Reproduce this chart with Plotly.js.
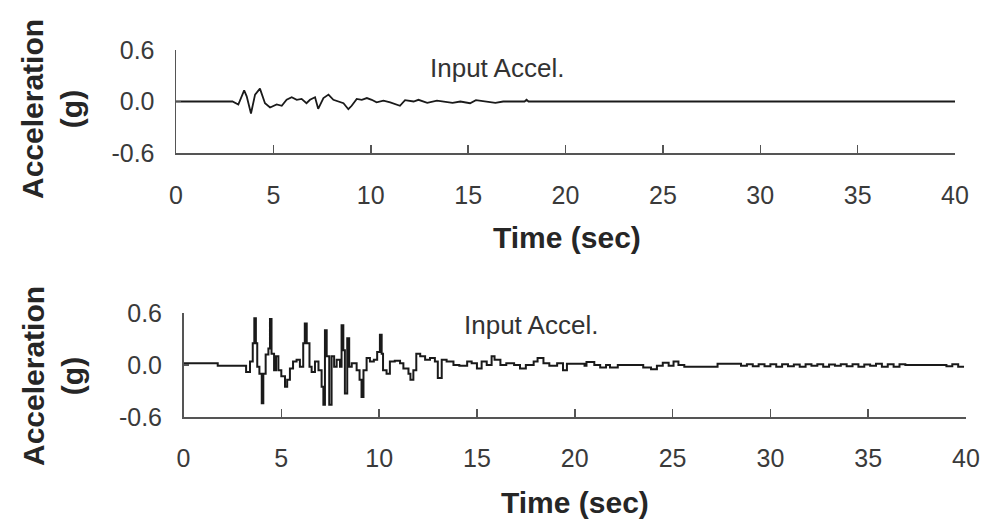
<!DOCTYPE html>
<html>
<head>
<meta charset="utf-8">
<script src="https://cdn.plot.ly/plotly-3.0.1.min.js"></script>
<style>html,body{margin:0;padding:0;background:#fff}#chart{width:985px;height:524px}</style>
</head>
<body>
<div id="chart"></div>
<script>
// ---- Data ----
const topTime = [0, 2.9, 3.2, 3.5, 3.63, 3.85, 4.06, 4.31, 4.57, 4.83, 5.17, 5.43, 5.68, 5.94, 6.2, 6.45, 6.7, 6.88, 7.14, 7.3, 7.57, 7.83, 8.08, 8.34, 8.6, 8.85, 9.02, 9.28, 9.54, 9.8, 10.05, 10.3, 10.65, 11.0, 11.5, 11.76, 12.2, 12.45, 12.9, 13.4, 14.2, 14.6, 15.1, 15.4, 16.0, 16.4, 16.8, 17.9, 18.0, 18.1, 40];
const topAccel = [0, 0, -0.035, 0.13, 0.06, -0.14, 0.08, 0.15, -0.02, -0.07, -0.035, -0.05, 0.02, 0.05, 0.02, 0.03, -0.02, 0.02, 0.05, -0.085, 0.04, 0.08, 0.02, 0.0, -0.02, -0.09, -0.05, 0.03, 0.02, 0.04, 0.02, -0.01, 0.01, -0.01, -0.05, 0.015, 0.0, 0.02, -0.015, 0.01, -0.015, 0.0, -0.02, 0.015, 0.0, -0.015, 0.0, 0.0, 0.02, 0.0, 0.0];

const botTime = [0, 1.7, 1.75, 3.0, 3.2, 3.4, 3.54, 3.62, 3.7, 3.77, 3.88, 4.0, 4.08, 4.2, 4.34, 4.42, 4.5, 4.63, 4.73, 4.85, 5.0, 5.19, 5.3, 5.44, 5.6, 5.78, 5.95, 6.12, 6.2, 6.3, 6.44, 6.55, 6.72, 6.9, 7.06, 7.15, 7.23, 7.32, 7.45, 7.57, 7.7, 7.83, 8.0, 8.08, 8.17, 8.25, 8.37, 8.47, 8.6, 8.85, 9.0, 9.1, 9.2, 9.36, 9.53, 9.73, 9.9, 10.04, 10.13, 10.2, 10.38, 10.55, 10.8, 11.07, 11.24, 11.5, 11.6, 11.75, 11.9, 12.1, 12.35, 12.6, 12.85, 13.0, 13.2, 13.45, 13.8, 14.1, 14.5, 14.73, 15.0, 15.24, 15.5, 15.75, 15.9, 16.2, 16.5, 16.9, 17.2, 17.5, 17.9, 18.1, 18.4, 18.7, 19.1, 19.4, 19.6, 20.5, 20.6, 21.0, 21.3, 21.6, 21.8, 22.2, 23.2, 23.5, 23.9, 24.2, 24.5, 24.8, 25.05, 25.3, 25.6, 27.2, 27.3, 28.3, 28.5, 28.8, 29.1, 29.4, 29.7, 30.0, 30.3, 30.6, 30.9, 31.2, 31.5, 31.8, 32.1, 32.4, 32.7, 33.0, 33.3, 33.6, 33.9, 34.2, 34.5, 34.8, 35.1, 35.4, 35.7, 36.0, 36.3, 36.6, 36.9, 37.2, 37.4, 39.0, 39.3, 39.6, 39.9, 40];
const botAccel = [0.02, 0.02, -0.01, -0.01, -0.08, 0.04, 0.25, 0.54, 0.25, -0.02, -0.1, -0.44, -0.1, 0.12, 0.19, 0.53, 0.13, -0.06, 0.1, -0.06, -0.13, -0.25, -0.17, -0.04, 0.04, 0.06, -0.02, 0.25, 0.48, 0.25, -0.02, -0.08, 0.04, -0.06, -0.25, -0.46, 0.4, 0.1, -0.46, 0.1, -0.02, 0.06, -0.02, 0.46, 0.17, -0.33, 0.31, -0.02, 0.02, -0.06, -0.17, -0.37, -0.06, 0.08, 0.04, 0.06, 0.15, 0.35, 0.13, -0.06, -0.1, 0.04, 0.05, 0.02, -0.04, -0.1, -0.17, -0.06, 0.13, 0.1, 0.06, 0.08, 0.04, -0.15, 0.06, 0.04, 0.0, -0.01, 0.04, 0.02, -0.04, 0.04, 0.0, 0.1, 0.06, 0.0, 0.02, 0.0, -0.04, 0.0, 0.04, 0.08, 0.02, -0.01, 0.02, -0.06, 0.015, -0.01, 0.035, 0.0, -0.03, 0.0, -0.03, 0.0, 0.0, -0.03, -0.05, -0.01, 0.025, -0.01, 0.04, 0.0, -0.02, -0.02, 0.015, 0.015, -0.01, 0.01, -0.015, 0.01, -0.015, 0.01, -0.02, 0.01, -0.015, 0.005, -0.02, 0.01, -0.01, 0.01, -0.02, 0.005, -0.01, 0.01, -0.015, 0.01, -0.02, 0.005, -0.01, 0.015, -0.02, 0.01, -0.02, 0.01, 0.0, 0.0, 0.0, -0.015, 0.01, -0.02, -0.02];

const xTicks = [0, 5, 10, 15, 20, 25, 30, 35, 40];
const yTicks = [-0.6, 0.0, 0.6];
const yTickText = ['-0.6', '0.0', '0.6'];
const panelLabel = 'Input Accel.';
const xTitle = 'Time (sec)';
const yTitle = 'Acceleration<br>(g)';

// ---- Styling ----
const W = 985, H = 524;
const tickFont = {family: 'Liberation Sans, Arial, sans-serif', size: 25, color: '#3a3a3a'};
const titleFont = {family: 'Liberation Sans, Arial, sans-serif', size: 30, color: '#262626'};

function xAxis(domain, anchor, standoff) {
  return {domain: domain, anchor: anchor, range: [0, 40], tickvals: xTicks, ticktext: xTicks.map(String),
    ticks: 'inside', ticklen: 8, tickwidth: 1.5, tickcolor: '#555', showline: true, linecolor: '#555', linewidth: 1.5,
    showgrid: false, zeroline: false, tickfont: tickFont, ticklabelstandoff: standoff, fixedrange: true};
}
function yAxis(domain, anchor) {
  return {domain: domain, anchor: anchor, range: [-0.6, 0.6], tickvals: yTicks, ticktext: yTickText,
    ticks: 'inside', ticklen: 5, tickwidth: 1.5, tickcolor: '#555', showline: true, linecolor: '#555', linewidth: 1.5,
    showgrid: false, zeroline: false, tickfont: tickFont, ticklabelstandoff: 15, fixedrange: true};
}
const px = v => v / W;
const py = v => 1 - v / H;
function note(text, x, y, font, angle) {
  return {text: text, xref: 'paper', yref: 'paper', x: px(x), y: py(y), xanchor: 'center', yanchor: 'middle',
    showarrow: false, font: font, textangle: angle || 0};
}

const data = [
  {x: topTime, y: topAccel, xaxis: 'x', yaxis: 'y', mode: 'lines', line: {color: '#1a1a1a', width: 1.8}, hoverinfo: 'skip'},
  {x: botTime, y: botAccel, xaxis: 'x2', yaxis: 'y2', mode: 'lines', line: {color: '#1a1a1a', width: 2, shape: 'hv'}, hoverinfo: 'skip'}
];

const labelFont = {family: tickFont.family, size: 26, color: '#333'};
const layout = {
  width: W, height: H, autosize: false,
  margin: {l: 0, r: 0, t: 0, b: 0},
  paper_bgcolor: '#fff', plot_bgcolor: '#fff', showlegend: false,
  xaxis: xAxis([px(176), px(955)], 'y', 19),
  yaxis: yAxis([py(153), py(50)], 'x'),
  xaxis2: xAxis([px(183.5), px(966)], 'y2', 18),
  yaxis2: yAxis([py(417), py(313)], 'x2'),
  annotations: [
    note(panelLabel, 497, 68, labelFont),
    note(panelLabel, 531, 325, labelFont),
    note('<b>' + xTitle + '</b>', 567, 237, titleFont),
    note('<b>' + xTitle + '</b>', 575, 502, titleFont),
    note('<b>' + yTitle + '</b>', 52, 109, titleFont, -90),
    note('<b>' + yTitle + '</b>', 53, 376, titleFont, -90)
  ]
};

Plotly.newPlot('chart', data, layout, {staticPlot: true, displayModeBar: false});
</script>
</body>
</html>
